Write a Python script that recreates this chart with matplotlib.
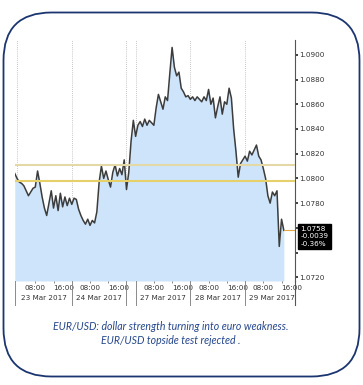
import matplotlib
matplotlib.use("Agg")
import matplotlib.pyplot as plt
from matplotlib import font_manager
from matplotlib.patches import FancyBboxPatch
from matplotlib.transforms import blended_transform_factory
import numpy as np

# EUR/USD hourly closes, session hours from 23 Mar 00:00 (weekend squeezed to Sunday evening)
prices = [
    1.0804, 1.0800, 1.0797, 1.0796, 1.0794, 1.0790, 1.0786, 1.0789, 1.0792, 1.0793,
    1.0806, 1.0796, 1.0785, 1.0776, 1.0770, 1.0780, 1.0790, 1.0776, 1.0786, 1.0774,
    1.0788, 1.0777, 1.0785, 1.0778, 1.0784, 1.0779, 1.0784, 1.0783, 1.0775, 1.0770,
    1.0766, 1.0763, 1.0767, 1.0762, 1.0766, 1.0764, 1.0773, 1.0797, 1.0810, 1.0800,
    1.0806, 1.0799, 1.0793, 1.0805, 1.0811, 1.0802, 1.0808, 1.0803, 1.0815, 1.0791,
    1.0805, 1.0830, 1.0847, 1.0834, 1.0843, 1.0846, 1.0842, 1.0848, 1.0843, 1.0847,
    1.0845, 1.0843, 1.0857, 1.0868, 1.0862, 1.0856, 1.0866, 1.0863, 1.0885, 1.0906,
    1.0890, 1.0883, 1.0886, 1.0873, 1.0870, 1.0866, 1.0867, 1.0864, 1.0866, 1.0863,
    1.0866, 1.0864, 1.0862, 1.0866, 1.0863, 1.0872, 1.0860, 1.0865, 1.0849, 1.0858,
    1.0866, 1.0852, 1.0862, 1.0860, 1.0873, 1.0865, 1.0840, 1.0822, 1.0801, 1.0812,
    1.0815, 1.0818, 1.0814, 1.0822, 1.0819, 1.0823, 1.0827, 1.0818, 1.0815, 1.0808,
    1.0800, 1.0786, 1.0780, 1.0789, 1.0786, 1.0790, 1.0745, 1.0767, 1.0758,
]
hours = np.arange(len(prices)) - 1

day_starts = [0, 24, 52, 76, 100]
day_names = ["23 Mar 2017", "24 Mar 2017", "27 Mar 2017", "28 Mar 2017", "29 Mar 2017"]
separators = [24, 48, 52, 76, 100]
resistance = [1.0811, 1.0798]
res_colors = ["#e3d8a6", "#e6d06a"]
last_label = ["1.0758", "-0.0039", "-0.36%"]
caption = ["EUR/USD: dollar strength turning into euro weakness.",
           "EUR/USD topside test rejected ."]

names = {f.name for f in font_manager.fontManager.ttflist}
narrow = ["Liberation Sans Narrow", "DejaVu Sans"] if "Liberation Sans Narrow" in names else ["DejaVu Sans"]
small = dict(family=narrow, size=5.2)

W, H = 363, 385
fig = plt.figure(figsize=(W / 100, H / 100), dpi=100)

# rounded frame
bg = fig.add_axes([0, 0, 1, 1], zorder=0)
bg.set_xlim(0, W)
bg.set_ylim(H, 0)
bg.axis("off")
bg.add_patch(FancyBboxPatch((3.5, 12.5), 356, 364, boxstyle="round,pad=0,rounding_size=48",
                            fc="white", ec="#1b3570", lw=1.3))
bg.text(171, 327, caption[0], ha="center", va="center", fontsize=7.6, style="italic",
        family=["Lato", "DejaVu Sans"], color="#25468c")
bg.text(171, 341, caption[1], ha="center", va="center", fontsize=7.6, style="italic",
        family=["Lato", "DejaVu Sans"], color="#25468c")

ax = fig.add_axes([15 / W, 1 - 281 / H, 280 / W, 241 / H], zorder=1)
ax.patch.set_alpha(0)
ax.set_xlim(-0.9, 121.9)
ax.set_ylim(1.0717, 1.0912)

ax.fill_between(hours, prices, 1.0717, color="#cde4fa", lw=0)
ax.plot(hours, prices, color="#3c3c3c", lw=1.1)

for d in [0] + separators:
    ax.axvline(d, color="#b4b4b4", lw=0.6, ls=(0, (1, 1.5)), zorder=0.5)
for lvl, c in zip(resistance, res_colors):
    ax.axhline(lvl, color=c, lw=1.5, zorder=3)

ax.plot([hours[-1], 121.9], [prices[-1], prices[-1]], color="#e0a848", lw=0.8, clip_on=False)

for s in ["top", "left", "bottom"]:
    ax.spines[s].set_visible(False)
ax.spines["right"].set_color("#555555")
ax.spines["right"].set_linewidth(0.8)

ax.yaxis.tick_right()
yt = np.arange(1.0720, 1.0901, 0.002)
ax.set_yticks(yt)
ax.set_yticklabels(["" if abs(v - 1.074) < 1e-6 or abs(v - 1.076) < 1e-6 else f"{v:.4f}" for v in yt],
                   fontdict=small)
ax.tick_params(axis="y", direction="out", length=2, width=1.3, color="#333333",
               pad=1, labelcolor="#333333")

xt = []
xl = []
for d in day_starts:
    xt += [d + 8, d + 16]
    xl += ["08:00", "16:00"]
ax.set_xticks(xt)
ax.set_xticklabels(xl, fontdict=small)
for i, lab in enumerate(ax.get_xticklabels()):
    lab.set_ha("center" if i % 2 == 0 else "left")
    if i % 2 == 1:
        lab.set_x(xt[i] - 1.2)
ax.tick_params(axis="x", direction="out", length=1.5, width=0.6, color="#777777",
               pad=1.5, labelcolor="#333333")

tr = blended_transform_factory(ax.transData, ax.transAxes)
for d in [-0.9] + separators:
    ax.plot([d, d], [0, -0.1], transform=tr, color="#8a8a8a", lw=0.7, clip_on=False)
ax.plot([1, 1], [0, -0.1], transform=ax.transAxes, color="#555555", lw=0.8, clip_on=False)
for d, name in zip(day_starts, day_names):
    ax.text(d + 12, -0.072, name, transform=tr, ha="center", va="center",
            color="#333333", **small)

tr2 = blended_transform_factory(ax.transAxes, ax.transData)
ax.annotate("\n".join(last_label), xy=(1.0, prices[-1]), xycoords=tr2,
            xytext=(4, 3), textcoords="offset points", va="top", ha="left",
            color="white", linespacing=1.25, **small,
            bbox=dict(boxstyle="square,pad=0.35", fc="black", ec="black"))

fig.savefig("out.png", dpi=100)
